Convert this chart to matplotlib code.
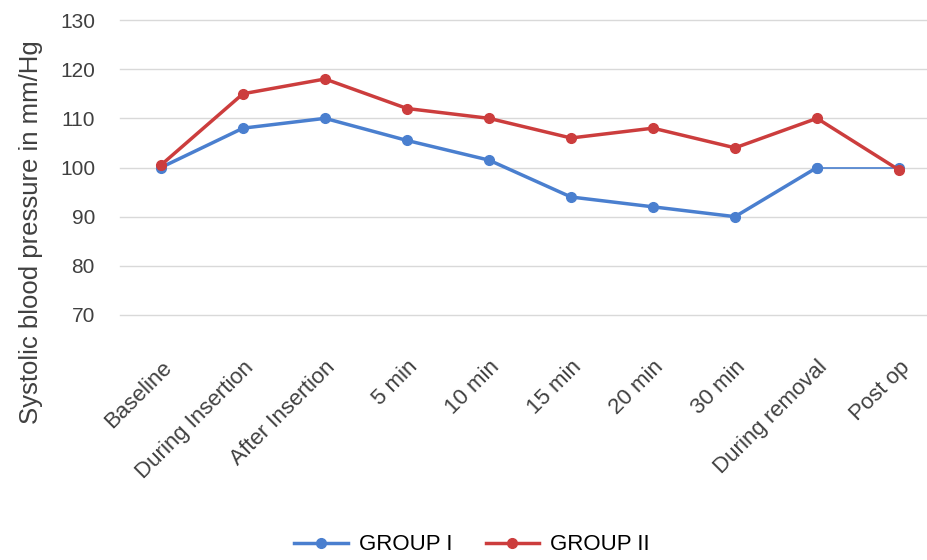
import matplotlib
matplotlib.use("Agg")
import matplotlib.pyplot as plt

categories = ["Baseline", "During Insertion", "After Insertion", "5 min", "10 min",
              "15 min", "20 min", "30 min", "During removal", "Post op"]
group_1 = [100, 108, 110, 105.5, 101.5, 94, 92, 90, 100, 100]
group_2 = [100.5, 115, 118, 112, 110, 106, 108, 104, 110, 99.5]
y_ticks = [70, 80, 90, 100, 110, 120, 130]

plt.rcParams["font.family"] = ["Liberation Sans", "DejaVu Sans"]

blue = "#4a7fcf"
red = "#cc3d3d"

fig = plt.figure(figsize=(9.28, 5.6), dpi=100)
ax = fig.add_axes([120 / 928, 1 - 315 / 560, 820 / 928, 295 / 560])

x = list(range(len(categories)))
# blue series: last segment is drawn thin in the original
ax.plot(x[:-1], group_1[:-1], color=blue, lw=2.5, marker="o", ms=7, label="GROUP I")
ax.plot(x[-2:], group_1[-2:], color=blue, lw=1.2, marker="o", ms=7)
ax.plot(x, group_2, color=red, lw=2.5, marker="o", ms=7, label="GROUP II")

ax.set_xlim(-0.5, len(categories) - 0.5)
ax.set_ylim(70, 130)
ax.set_yticks(y_ticks)
ax.set_xticks(x)
ax.set_xticklabels(categories, rotation=45, ha="right", rotation_mode="anchor",
                   fontsize=16, color="#404040")
ax.tick_params(axis="x", length=0, pad=30)
ax.tick_params(axis="y", length=0, pad=18, labelsize=15, labelcolor="#404040")
ax.grid(axis="y", color="#d9d9d9", lw=1)
for gl in ax.get_ygridlines():
    gl.set_clip_on(False)
ax.set_axisbelow(True)
for s in ax.spines.values():
    s.set_visible(False)

ax.set_ylabel("Systolic blood pressure in mm/Hg", fontsize=18.5, color="#404040")
ax.yaxis.set_label_coords(-(120 - 43) / 820, (315 - 232) / 295)

fig.legend(loc="center", bbox_to_anchor=(472 / 928, 1 - 545 / 560), ncol=2,
           frameon=False, fontsize=16, handlelength=2.4, handletextpad=0.5,
           columnspacing=1.5)

fig.savefig("out.png", dpi=100)
